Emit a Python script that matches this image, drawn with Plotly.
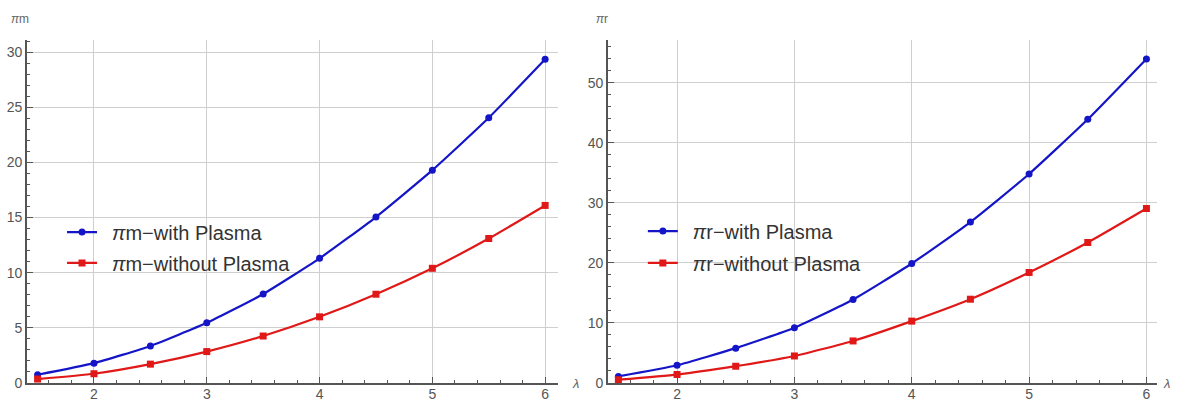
import plotly.graph_objects as go

lam = [1.5, 2.0, 2.5, 3.0, 3.5, 4.0, 4.5, 5.0, 5.5, 6.0]
pim_with = [0.75, 1.8, 3.36, 5.46, 8.07, 11.3, 15.05, 19.3, 24.05, 29.35]
pim_without = [0.36, 0.84, 1.71, 2.85, 4.26, 6.0, 8.05, 10.4, 13.1, 16.1]
pir_with = [1.1, 2.95, 5.8, 9.2, 13.9, 19.9, 26.8, 34.8, 43.9, 53.95]
pir_without = [0.55, 1.4, 2.8, 4.5, 7.0, 10.3, 13.95, 18.4, 23.4, 29.05]

BLUE = "#1515c8"
RED = "#e01818"
FONT = "Liberation Sans, Arial, sans-serif"
GAP = "\u2002"

fig = go.Figure()

def add(x, y, name, color, symbol, size, xa, ya, leg):
    fig.add_trace(go.Scatter(
        x=x, y=y, name=GAP + name, mode="lines+markers", showlegend=True,
        line=dict(color=color, width=2.2, shape="spline", smoothing=0.5),
        marker=dict(color=color, symbol=symbol, size=size),
        xaxis=xa, yaxis=ya, legend=leg))

add(lam, pim_with, "<i>π</i>m−with Plasma", BLUE, "circle", 7, "x", "y", "legend")
add(lam, pim_without, "<i>π</i>m−without Plasma", RED, "square", 7, "x", "y", "legend2")
add(lam, pir_with, "<i>π</i>r−with Plasma", BLUE, "circle", 7, "x2", "y2", "legend3")
add(lam, pir_without, "<i>π</i>r−without Plasma", RED, "square", 7, "x2", "y2", "legend4")

axis_common = dict(
    showline=True, linecolor="#555", linewidth=1.6, mirror=False,
    ticks="inside", ticklen=6, tickcolor="#555", tickwidth=1.2,
    showgrid=True, gridcolor="#cfcfcf", gridwidth=1,
    zeroline=False, automargin=False,
    tickfont=dict(family=FONT, size=14, color="#555"),
)
xminor = dict(dtick=0.2, ticks="inside", ticklen=3, tickcolor="#555", showgrid=False)

fig.update_layout(
    width=1177, height=401,
    margin=dict(l=27, r=20, t=40, b=18),
    paper_bgcolor="white", plot_bgcolor="white",
    font=dict(family=FONT),
    showlegend=True,
    xaxis=dict(domain=[0, 0.47], range=[1.406, 6.115], dtick=1, tick0=0,
               minor=xminor, ticklabelstandoff=-3, anchor="y", **axis_common),
    yaxis=dict(range=[0, 31.1], dtick=5, tick0=0,
               minor=dict(dtick=1, ticks="inside", ticklen=3, tickcolor="#555", showgrid=False),
               anchor="x", **axis_common),
    xaxis2=dict(domain=[0.514, 1.0], range=[1.41, 6.09], dtick=1, tick0=0,
                minor=xminor, ticklabelstandoff=-3, anchor="y2", **axis_common),
    yaxis2=dict(range=[0, 57.1], dtick=10, tick0=0,
                minor=dict(dtick=2, ticks="inside", ticklen=3, tickcolor="#555", showgrid=False),
                anchor="x2", **axis_common),
)

leg_common = dict(bgcolor="rgba(0,0,0,0)", borderwidth=0,
                  font=dict(family=FONT, size=20, color="#333"),
                  xanchor="left", yanchor="middle", visible=True)
fig.update_layout(
    legend=dict(x=0.031, y=0.44, **leg_common),
    legend2=dict(x=0.031, y=0.35, **leg_common),
    legend3=dict(x=0.545, y=0.443, **leg_common),
    legend4=dict(x=0.545, y=0.35, **leg_common),
)

ann_font = dict(family=FONT, size=12, color="#666")
fig.add_annotation(text="<i>π</i>m", xref="paper", yref="paper", x=-0.006, y=1.06,
                   showarrow=False, font=ann_font, xanchor="center", yanchor="middle")
fig.add_annotation(text="<i>π</i>r", xref="paper", yref="paper", x=0.509, y=1.06,
                   showarrow=False, font=ann_font, xanchor="center", yanchor="middle")
fig.add_annotation(text="<i>λ</i>", xref="paper", yref="paper", x=0.485, y=0.0,
                   showarrow=False, font=dict(family=FONT, size=13, color="#666"),
                   xanchor="center", yanchor="middle")
fig.add_annotation(text="<i>λ</i>", xref="paper", yref="paper", x=1.008, y=0.0,
                   showarrow=False, font=dict(family=FONT, size=13, color="#666"),
                   xanchor="center", yanchor="middle")

fig.write_html("out.html",
               config={"displayModeBar": False},
               post_script="document.body.style.margin='0';document.body.style.overflow='hidden';")
